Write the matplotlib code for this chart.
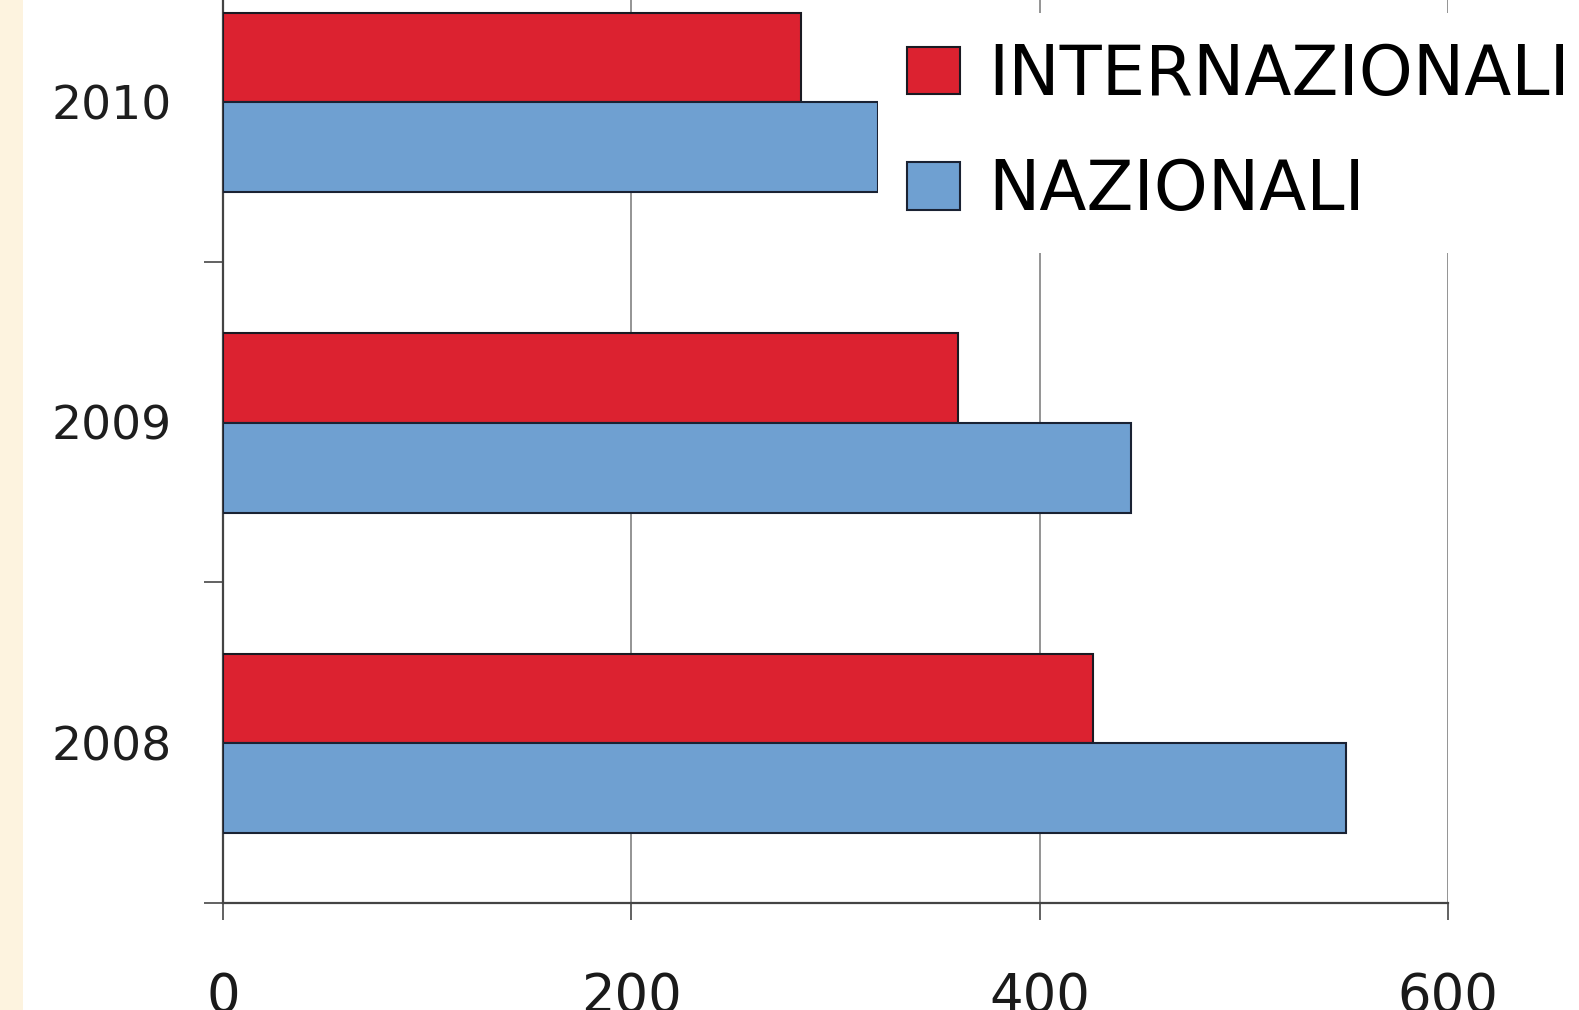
import numpy as np
import matplotlib
matplotlib.use("Agg")
import matplotlib.pyplot as plt
from matplotlib.patches import Rectangle

years = ["2008", "2009", "2010"]
internazionali = [426, 360, 283]
nazionali = [550, 445, 321]
x_ticks = [0, 200, 400, 600]

red = "#DC2230"
blue = "#6FA0D1"

plt.rcParams['font.family'] = ['DejaVu Sans']

fig = plt.figure(figsize=(15.79, 10.10), dpi=100)
fig.patch.set_facecolor("white")
# cream strip on the left edge
fig.patches.append(Rectangle((0, 0), 23 / 1579, 1, transform=fig.transFigure,
                             facecolor="#FDF3DF", edgecolor="none", zorder=0))

ax = fig.add_axes([0.1412, 0.106, 0.7758, 0.952])
y = np.arange(len(years))
bar_h = 0.28

ax.barh(y + 0.138, internazionali, height=bar_h, color=red, edgecolor="#1a1a22",
        linewidth=1.5, label="INTERNAZIONALI", zorder=3)
ax.barh(y - 0.142, nazionali, height=bar_h, color=blue, edgecolor="#1a2233",
        linewidth=1.5, label="NAZIONALI", zorder=3)

ax.set_xlim(0, 600)
ax.set_ylim(-0.5, 2.5)
ax.set_xticks(x_ticks)
ax.set_yticks(y, years)
ax.set_yticks(np.arange(-0.5, 3.0, 1.0), minor=True)

ax.tick_params(axis="y", which="major", length=0, pad=37, labelsize=34, labelcolor="#1e1e1e")
ax.tick_params(axis="y", which="minor", length=14, width=1.3, color="#555555", direction="out")
ax.tick_params(axis="x", length=12, width=1.3, color="#555555", pad=37, labelsize=38,
               labelcolor="#1a1a1a")

ax.grid(axis="x", color="#777777", linewidth=1.1, zorder=0)
ax.set_axisbelow(True)
for s in ["top", "right"]:
    ax.spines[s].set_visible(False)
for s in ["left", "bottom"]:
    ax.spines[s].set_color("#444444")
    ax.spines[s].set_linewidth(1.6)

leg = ax.legend(loc="upper left", bbox_to_anchor=(878 / 1579, 1 - 13 / 1010),
                bbox_transform=fig.transFigure, fontsize=49.5, frameon=True,
                facecolor="white", edgecolor="none", framealpha=1.0,
                handlelength=0.77, handleheight=0.68, handletextpad=0.42,
                labelspacing=0.7, borderpad=0.42, borderaxespad=0)
leg.set_zorder(5)

fig.savefig("out.png", dpi=100)
